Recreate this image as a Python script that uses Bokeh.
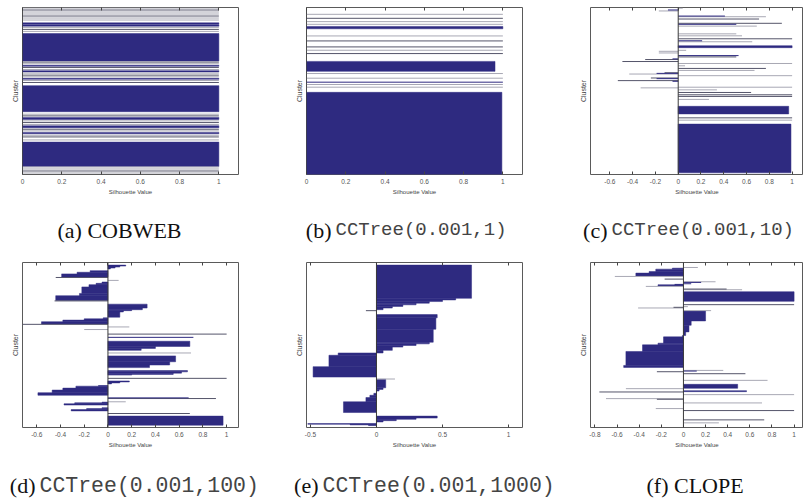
from bokeh.plotting import figure
from bokeh.layouts import column, row
from bokeh.models import (Range1d, FixedTicker, CustomJSTickFormatter, LinearAxis,
                          Span, ColumnDataSource)
from bokeh.core.properties import value
from bokeh.embed import file_html
from bokeh.resources import INLINE

# ---------------- data ----------------
# each row: (kind, rows, silhouette value)
#   B = filled bar, N = thin navy bar, D = dark thin bar, L = light thin bar, W = blank rows
panel_a = [
    ("L", 3, 1.0), ("W", 3, 0), ("D", 3, 1.0), ("W", 3, 0), ("L", 3, 1.0), ("W", 3, 0),
    ("L", 3, 1.0), ("W", 3, 0), ("D", 3, 1.0), ("W", 3, 0), ("L", 3, 1.0), ("W", 3, 0),
    ("L", 3, 1.0), ("W", 3, 0),
    ("W", 4, 0), ("B", 4, 1.0), ("W", 2, 0), ("B", 4, 1.0), ("W", 2, 0),
    ("L", 3, 1.0), ("W", 3, 0), ("D", 3, 1.0), ("W", 3, 0), ("L", 3, 1.0), ("W", 2, 0),
    ("W", 3, 0), ("B", 82, 1.0), ("W", 2, 0),
    ("D", 3, 1.0), ("W", 2, 0), ("L", 3, 1.0), ("W", 3, 0), ("B", 3, 1.0), ("W", 2, 0),
    ("D", 3, 1.0), ("W", 3, 0), ("L", 3, 1.0), ("W", 2, 0), ("B", 4, 1.0), ("W", 2, 0),
    ("L", 3, 1.0), ("W", 3, 0), ("D", 3, 1.0), ("W", 2, 0), ("L", 3, 1.0), ("W", 3, 0),
    ("B", 3, 1.0), ("W", 2, 0), ("L", 3, 1.0), ("W", 3, 0), ("D", 3, 1.0), ("W", 4, 0),
    ("W", 4, 0), ("B", 78, 1.0), ("W", 6, 0),
    ("L", 3, 1.0), ("W", 2, 0), ("D", 3, 1.0), ("W", 3, 0), ("B", 6, 1.0), ("W", 3, 0),
    ("L", 3, 1.0), ("W", 2, 0), ("D", 3, 1.0), ("W", 3, 0), ("L", 3, 1.0), ("W", 2, 0),
    ("B", 6, 1.0), ("W", 3, 0), ("D", 3, 1.0), ("W", 2, 0), ("L", 3, 1.0), ("W", 3, 0),
    ("B", 4, 1.0), ("W", 3, 0), ("L", 3, 1.0), ("W", 2, 0), ("D", 3, 1.0), ("W", 6, 0),
    ("L", 3, 1.0), ("W", 5, 0), ("B", 73, 1.0),
    ("L", 3, 1.0), ("W", 3, 0), ("L", 3, 1.0), ("W", 3, 0), ("D", 3, 1.0), ("W", 3, 0),
    ("L", 3, 1.0), ("W", 3, 0),
]
panel_b = [
    ("W", 19, 0), ("L", 3, 1.0), ("W", 9, 0), ("D", 3, 1.0), ("W", 7, 0), ("L", 3, 1.0),
    ("W", 5, 0), ("L", 3, 1.0), ("W", 5, 0), ("B", 7, 1.0), ("W", 20, 0), ("L", 3, 1.0),
    ("W", 12, 0), ("D", 3, 1.0), ("W", 15, 0), ("D", 3, 1.0), ("W", 7, 0), ("L", 3, 1.0),
    ("W", 7, 0), ("D", 3, 1.0), ("W", 22, 0), ("B", 30, 0.96), ("W", 5, 0), ("L", 3, 1.0),
    ("W", 11, 0), ("L", 3, 1.0), ("W", 9, 0), ("N", 3, 1.0), ("W", 4, 0), ("L", 3, 1.0),
    ("W", 5, 0), ("L", 3, 1.0), ("W", 14, 0), ("B", 247, 0.995),
]
panel_c = [
    ("W", 1, 0), ("L", 2, 0.04), ("W", 3, 0), ("N", 3, -0.09), ("L", 3, -0.17), ("W", 13, 0),
    ("N", 2, 0.41), ("L", 2, 0.77), ("W", 5, 0), ("D", 2, 0.71), ("W", 11, 0), ("D", 2, 0.91),
    ("W", 1, 0), ("N", 2, 0.51), ("W", 3, 0), ("L", 3, 0.69), ("W", 21, 0), ("L", 2, 0.51),
    ("W", 4, 0), ("L", 2, 0.56), ("W", 7, 0), ("D", 2, 1.0), ("W", 4, 0), ("N", 2, 0.21),
    ("W", 1, 0), ("L", 2, 0.65), ("W", 11, 0), ("B", 6, 1.0), ("W", 7, 0), ("L", 2, 0.07),
    ("W", 1, 0), ("L", 2, -0.17), ("W", 3, 0), ("L", 2, -0.17), ("W", 6, 0), ("N", 2, 0.53),
    ("W", 2, 0), ("D", 2, 0.51), ("W", 4, 0), ("N", 2, -0.05), ("D", 2, -0.29), ("W", 4, 0),
    ("D", 2, -0.49), ("W", 4, 0), ("L", 2, 1.0), ("W", 5, 0), ("L", 2, 0.06), ("W", 6, 0),
    ("D", 2, 0.77), ("W", 4, 0), ("L", 2, 0.67), ("W", 5, 0), ("D", 2, -0.12), ("N", 2, -0.19),
    ("L", 2, -0.43), ("W", 3, 0), ("L", 2, 1.0), ("W", 5, 0), ("D", 2, -0.24), ("N", 2, -0.19),
    ("W", 4, 0), ("D", 2, -0.53), ("N", 2, -0.05), ("W", 16, 0), ("L", 2, 1.0), ("L", 2, -0.33),
    ("W", 4, 0), ("L", 2, 0.34), ("W", 6, 0), ("D", 2, 0.64), ("W", 5, 0), ("D", 2, 1.0),
    ("W", 3, 0), ("D", 2, 1.0), ("W", 7, 0), ("L", 2, 0.27), ("W", 20, 0), ("B", 23, 0.97),
    ("W", 11, 0), ("D", 2, 1.0), ("W", 5, 0), ("L", 2, 1.0), ("W", 11, 0), ("B", 148, 0.99),
    ("W", 5, 0),
]
panel_d = [
    ("W", 8, 0), ("B", 3, 0.15), ("B", 3, 0.10), ("B", 3, 0.06), ("B", 3, 0.02), ("W", 5, 0),
    ("B", 5, -0.15), ("B", 5, -0.26), ("B", 10, -0.39), ("D", 2, -0.44), ("W", 7, 0),
    ("L", 2, 0.09), ("W", 4, 0), ("B", 4, -0.05), ("B", 4, -0.10), ("B", 7, -0.16),
    ("B", 20, -0.22), ("B", 7, -0.24), ("B", 15, -0.44), ("D", 2, -0.45), ("W", 9, 0),
    ("B", 12, 0.33), ("B", 5, 0.29), ("B", 3, 0.20), ("B", 4, 0.13), ("B", 16, 0.10),
    ("W", 2, 0), ("B", 3, -0.04), ("B", 4, -0.20), ("B", 5, -0.38), ("B", 7, -0.56),
    ("D", 2, -0.72), ("W", 6, 0), ("L", 2, 0.18), ("W", 6, 0), ("L", 2, -0.20), ("W", 12, 0),
    ("D", 2, 1.0), ("W", 8, 0), ("N", 2, 0.72), ("W", 11, 0), ("B", 16, 0.69), ("B", 6, 0.40),
    ("B", 6, 0.28), ("W", 7, 0), ("L", 2, 0.70), ("W", 8, 0), ("B", 18, 0.57), ("B", 10, 0.52),
    ("B", 8, 0.35), ("W", 9, 0), ("B", 4, 0.67), ("B", 4, 0.62), ("B", 4, 0.55), ("B", 2, 0.20),
    ("W", 9, 0), ("D", 2, 1.0), ("W", 7, 0), ("B", 3, 0.18), ("B", 3, 0.10), ("B", 3, 0.03),
    ("W", 5, 0), ("B", 2, -0.08), ("B", 6, -0.27), ("B", 6, -0.38), ("B", 8, -0.47),
    ("B", 8, -0.59), ("W", 7, 0), ("N", 2, 0.68), ("D", 2, 0.91), ("W", 8, 0), ("L", 2, 0.15),
    ("B", 2, -0.05), ("B", 3, -0.28), ("B", 4, -0.37), ("W", 8, 0), ("B", 3, -0.05),
    ("B", 3, -0.18), ("B", 4, -0.31), ("W", 7, 0), ("D", 2, 0.69), ("W", 7, 0), ("B", 28, 0.97),
    ("W", 7, 0),
]
panel_e = [
    ("W", 8, 0), ("B", 102, 0.72), ("B", 5, 0.60), ("B", 5, 0.50), ("B", 5, 0.40), ("B", 5, 0.30),
    ("B", 5, 0.20), ("B", 5, 0.12), ("B", 5, 0.05), ("W", 2, 0), ("D", 2, -0.08), ("W", 11, 0),
    ("B", 10, 0.46), ("B", 35, 0.45), ("B", 40, 0.43), ("B", 5, 0.40), ("B", 5, 0.30),
    ("B", 5, 0.20), ("B", 10, 0.12), ("B", 8, 0.05), ("B", 7, -0.29), ("B", 35, -0.36),
    ("B", 32, -0.48), ("W", 5, 0), ("L", 2, 0.14), ("B", 26, 0.07), ("B", 5, 0.05), ("B", 5, 0.02),
    ("W", 7, 0), ("B", 6, -0.02), ("B", 7, -0.05), ("B", 13, -0.08), ("B", 33, -0.25),
    ("W", 11, 0), ("B", 6, 0.46), ("B", 4, 0.30), ("B", 4, 0.15), ("B", 4, 0.05), ("W", 5, 0),
    ("B", 2, -0.52), ("B", 2, -0.20), ("B", 2, -0.06), ("W", 6, 0),
]
panel_f = [
    ("W", 14, 0), ("L", 2, 0.13), ("W", 1, 0), ("B", 3, -0.10), ("B", 7, -0.25), ("B", 5, -0.31),
    ("B", 9, -0.43), ("L", 2, -0.62), ("W", 6, 0), ("D", 2, -0.17), ("W", 6, 0), ("L", 2, 0.29),
    ("N", 2, 0.16), ("W", 2, 0), ("N", 2, 0.07), ("N", 2, -0.08), ("B", 4, -0.23), ("L", 2, -0.34),
    ("W", 6, 0), ("D", 2, 0.39), ("L", 2, 0.53), ("W", 5, 0), ("B", 29, 1.0), ("W", 9, 0),
    ("D", 2, 1.0), ("W", 4, 0), ("L", 2, 0.04), ("D", 2, -0.09), ("L", 2, -0.41), ("W", 6, 0),
    ("L", 2, 0.25), ("B", 30, 0.20), ("B", 13, 0.07), ("B", 20, 0.05), ("B", 11, 0.02),
    ("B", 4, -0.01), ("B", 19, -0.18), ("B", 5, -0.23), ("B", 20, -0.37), ("B", 42, -0.52),
    ("B", 6, -0.54), ("W", 8, 0), ("L", 2, 0.36), ("N", 2, 0.12), ("D", 2, -0.24), ("W", 4, 0),
    ("D", 2, 0.56), ("W", 18, 0), ("L", 2, 0.76), ("W", 11, 0), ("B", 12, 0.49), ("L", 2, -0.52),
    ("W", 5, 0), ("B", 3, 0.57), ("D", 2, -0.76), ("W", 6, 0), ("L", 2, 1.0), ("W", 10, 0),
    ("L", 2, -0.70), ("D", 2, -0.24), ("W", 9, 0), ("L", 2, 0.71), ("W", 15, 0), ("L", 2, -0.25),
    ("W", 4, 0), ("D", 2, 1.0), ("W", 26, 0), ("D", 2, 0.73), ("W", 7, 0), ("L", 2, 0.32),
    ("W", 13, 0),
]

ticks_ab = [0, 0.2, 0.4, 0.6, 0.8, 1]
ticks_cd = [-0.6, -0.4, -0.2, 0, 0.2, 0.4, 0.6, 0.8, 1]
ticks_e = [-0.5, 0, 0.5, 1]
ticks_f = [-0.8, -0.6, -0.4, -0.2, 0, 0.2, 0.4, 0.6, 0.8, 1]

cap_serif_1 = ["(a) COBWEB", "(b)", "(c)"]
cap_mono_1 = ["CCTree(0.001,1)", "CCTree(0.001,10)"]
cap_serif_2 = ["(d)", "(e)", "(f) CLOPE"]
cap_mono_2 = ["CCTree(0.001,100)", "CCTree(0.001,1000)"]

NAVY = "#2e2a80"
COLORS = {"N": NAVY, "D": "#55556a", "L": "#a8a8b4"}
AX = "Liberation Sans"
W = 803


def silhouette(rows, xlim, ticks, width, height, bl, br, bt, bb):
    total = sum(r[1] for r in rows)
    p = figure(width=width, height=height, x_range=Range1d(*xlim), y_range=Range1d(total, 0),
               output_backend="svg", toolbar_location=None,
               min_border_left=bl, min_border_right=br, min_border_top=bt, min_border_bottom=bb,
               background_fill_color="white", border_fill_color="white")
    p.grid.visible = False
    p.outline_line_color = "#5a5a5a"
    p.outline_line_width = 1

    bars = dict(y=[], h=[], r=[])
    segs = {k: dict(y=[], x1=[]) for k in COLORS}
    y = 0.0
    for kind, n, v in rows:
        c = y + n / 2.0
        if kind == "B":
            bars["y"].append(c); bars["h"].append(n); bars["r"].append(v)
        elif kind in segs:
            segs[kind]["y"].append(c); segs[kind]["x1"].append(v)
        y += n
    p.hbar(y="y", height="h", left=0, right="r", source=ColumnDataSource(bars),
           fill_color=NAVY, line_color=NAVY, line_width=0.5)
    for k in ("L", "D", "N"):
        d = segs[k]
        src = ColumnDataSource(dict(y=d["y"], x0=[0] * len(d["y"]), x1=d["x1"]))
        p.segment(x0="x0", y0="y", x1="x1", y1="y", source=src,
                  line_color=COLORS[k], line_width=1)
    p.add_layout(Span(location=0, dimension="height", line_color="#3a3a3a", line_width=1))

    xa = p.xaxis[0]
    xa.ticker = FixedTicker(ticks=ticks)
    xa.formatter = CustomJSTickFormatter(code="return tick.toString();")
    xa.major_tick_in = 3
    xa.major_tick_out = 0
    xa.minor_tick_line_color = None
    xa.axis_line_color = None
    xa.major_tick_line_color = "#444"
    xa.major_label_text_font = AX
    xa.major_label_text_font_size = "6.5px"
    xa.major_label_text_color = "#555"
    xa.major_label_standoff = 4
    xa.axis_label = "Silhouette Value"
    xa.axis_label_text_font = AX
    xa.axis_label_text_font_size = "6px"
    xa.axis_label_text_font_style = "normal"
    xa.axis_label_text_color = "#444"
    xa.axis_label_standoff = 2

    ya = p.yaxis[0]
    ya.ticker = FixedTicker(ticks=[])
    ya.major_tick_line_color = None
    ya.minor_tick_line_color = None
    ya.axis_line_color = None
    ya.major_label_standoff = 0
    ya.axis_label = "Cluster"
    ya.axis_label_text_font = AX
    ya.axis_label_text_font_size = "7px"
    ya.axis_label_text_font_style = "normal"
    ya.axis_label_text_color = "#444"
    ya.axis_label_standoff = 4

    top = LinearAxis(ticker=FixedTicker(ticks=ticks),
                     formatter=CustomJSTickFormatter(code="return '';"),
                     major_tick_in=3, major_tick_out=0, major_label_standoff=0,
                     major_label_text_font_size="0px", minor_tick_line_color=None,
                     axis_line_color=None, major_tick_line_color="#444")
    p.add_layout(top, "above")
    return p


def caption(height, yc, serif_left, serif_right, mono, serif_px, mono_px):
    c = figure(width=W, height=height, x_range=Range1d(0, W), y_range=Range1d(height, 0),
               x_axis_type=None, y_axis_type=None, output_backend="svg", toolbar_location=None,
               min_border=0, outline_line_color=None)
    c.grid.visible = False
    c.text(x=serif_left[1], y=[yc] * len(serif_left[0]), text=serif_left[0],
           text_font=value("Liberation Serif"), text_font_size=value(serif_px),
           text_align="left", text_baseline="middle", text_color="#111")
    c.text(x=serif_right[1], y=[yc] * len(serif_right[0]), text=serif_right[0],
           text_font=value("Liberation Serif"), text_font_size=value(serif_px),
           text_align="right", text_baseline="middle", text_color="#111")
    c.text(x=mono[1], y=[yc] * len(mono[0]), text=mono[0],
           text_font=value("Liberation Mono"), text_font_size=value(mono_px),
           text_align="left", text_baseline="middle", text_color="#444")
    return c


# row 1: frames at x 22-238, 306-522, 590-803; y 7-174
pa = silhouette(panel_a, (0, 1.1), ticks_ab, 278, 210, 22, 40, 7, 36)
pb = silhouette(panel_b, (0, 1.1), ticks_ab, 278, 210, 28, 34, 7, 36)
pc = silhouette(panel_c, (-0.77, 1.1), ticks_cd, 247, 210, 34, 0, 7, 34)
# row 2: frames at y 262-431
pd = silhouette(panel_d, (-0.72, 1.1), ticks_cd, 278, 215, 22, 40, 12, 34)
pe = silhouette(panel_e, (-0.53, 1.106), ticks_e, 278, 215, 28, 34, 12, 34)
pf = silhouette(panel_f, (-0.84, 1.085), ticks_f, 247, 215, 34, 0, 12, 38)

cap1 = caption(40, 19.5,
               ([cap_serif_1[0]], [57]),
               (cap_serif_1[1:], [331, 607]),
               (cap_mono_1, [335, 611]), "22px", "19px")
cap2 = caption(34, 20,
               ([cap_serif_2[2]], [646]),
               (cap_serif_2[:2], [35, 318]),
               (cap_mono_2, [39, 322]), "22px", "21.5px")

layout = column(row(pa, pb, pc), cap1, row(pd, pe, pf), cap2, spacing=0)
open("out.html", "w").write(file_html(layout, INLINE))
